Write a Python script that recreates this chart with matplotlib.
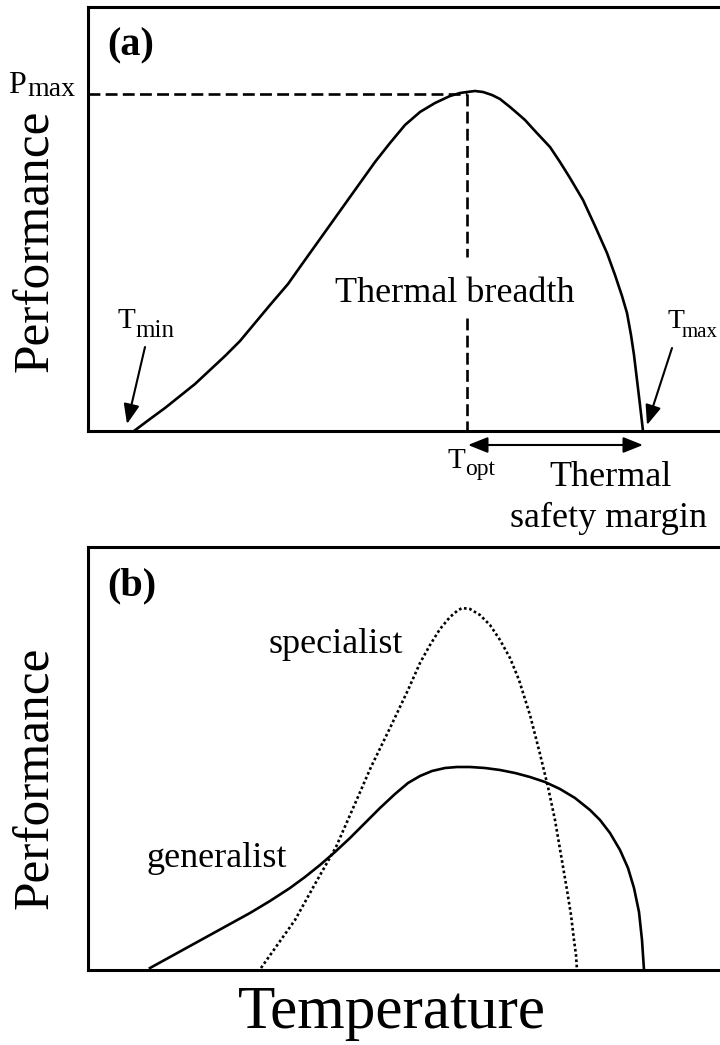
import matplotlib
matplotlib.use("Agg")
import matplotlib.pyplot as plt

plt.rcParams['font.family'] = ['Liberation Serif', 'DejaVu Serif']

W, H = 720, 1045

# ---- Panel (a): thermal performance curve (x = temperature, y = performance) ----
tpc_temp = [134, 150, 165, 180, 195, 210, 225, 240, 255, 270, 288, 300, 315, 330,
            345, 360, 375, 390, 405, 420, 435, 450, 460, 467, 475, 483, 492, 500,
            510, 517, 525, 535, 550, 560, 570, 583, 595, 607, 615, 622, 627, 631,
            634, 637, 640, 643]
tpc_y_px = [431, 419, 408, 396, 384, 370, 356, 341, 323, 305, 284, 267, 246, 225,
            204, 183, 162, 143, 125, 112, 103, 96, 93, 92, 91, 92, 95, 99,
            107, 113, 120, 131, 147, 162, 178, 200, 226, 253, 275, 296, 313, 335,
            355, 380, 405, 431]
tpc_perf = [431 - v for v in tpc_y_px]

T_opt = 467
P_max = 339
T_min = 134
T_max = 643
breadth_gap = (174, 113)   # vertical dashed line interrupted by the label

# ---- Panel (b): generalist vs specialist ----
gen_temp = [150, 170, 190, 210, 230, 250, 270, 290, 305, 320, 335, 350, 365, 380,
            395, 408, 420, 432, 445, 457, 470, 485, 500, 515, 530, 545, 560, 575,
            590, 600, 610, 620, 628, 634, 639, 642, 644]
gen_y_px = [968, 957, 946, 935, 924, 913, 901, 888, 877, 865, 852, 838, 823, 808,
            794, 783, 776, 771, 768, 767, 767, 768, 770, 773, 777, 782, 789, 798,
            810, 820, 833, 850, 868, 888, 912, 940, 970]
gen_perf = [970 - v for v in gen_y_px]

spec_temp = [261, 278, 295, 315, 336, 354, 371, 390, 408, 420, 430, 440, 450, 457,
             462, 470, 480, 490, 500, 510, 519, 530, 540, 548, 555, 561, 567, 571,
             574, 576, 577]
spec_y_px = [968, 944, 920, 884, 847, 806, 767, 728, 690, 663, 645, 629, 617, 611,
             608, 609, 615, 625, 640, 658, 680, 715, 754, 787, 820, 855, 890, 915,
             940, 955, 970]
spec_perf = [970 - v for v in spec_y_px]

fig = plt.figure(figsize=(W / 100, H / 100), dpi=100)


def add_axes(top, bottom, left=88, right=731):
    return fig.add_axes([left / W, 1 - bottom / H, (right - left) / W, (bottom - top) / H])


def style(ax, bottom_px, top_px):
    ax.set_xlim(88, 731)
    ax.set_ylim(0, bottom_px - top_px)
    ax.set_xticks([])
    ax.set_yticks([])
    for s in ax.spines.values():
        s.set_linewidth(2.2)
        s.set_color('black')


def ftext(x, y, s, **kw):
    fig.text(x / W, 1 - y / H, s, **kw)


LW = 1.9

# Panel (a)
axa = add_axes(7, 431)
style(axa, 431, 7)
A0 = 431  # pixel of panel a bottom
axa.plot(tpc_temp, tpc_perf, color='black', lw=LW, solid_joinstyle='round', zorder=3)
axa.plot([88, T_opt], [P_max - 2, P_max - 2], color='black', lw=LW, dashes=(4.5, 2))
axa.plot([T_opt, T_opt], [P_max - 2, breadth_gap[0]], color='black', lw=LW, dashes=(4.5, 2))
axa.plot([T_opt, T_opt], [breadth_gap[1], 0], color='black', lw=LW, dashes=(4.5, 2))

axa.text(455, A0 - 302, 'Thermal breadth', fontsize=26, ha='center', va='baseline')

arrow = dict(arrowstyle='-|>,head_length=0.5,head_width=0.2', color='black', lw=1.5,
             mutation_scale=24, shrinkA=0, shrinkB=0)
axa.annotate('', xy=(127, A0 - 424), xytext=(145, A0 - 347), arrowprops=arrow,
             annotation_clip=False)
axa.annotate('', xy=(647, A0 - 425), xytext=(672, A0 - 348), arrowprops=arrow,
             annotation_clip=False)
dbl = dict(arrowstyle='<|-|>,head_length=0.5,head_width=0.2', color='black', lw=1.5,
           mutation_scale=24, shrinkA=0, shrinkB=0)
axa.annotate('', xy=(T_opt + 1, A0 - 445), xytext=(T_max, A0 - 445), arrowprops=dbl,
             annotation_clip=False)

ftext(36, 241, 'Performance', fontsize=37, rotation=90, ha='center', va='center')
ftext(107, 55, '(a)', fontsize=29, fontweight='bold', ha='left', va='baseline')


# subscripted labels
def sublabel(x, y, main, sub, dy=4, size=23, subsize=20, gap=0):
    ftext(x, y, main, fontsize=size, ha='left', va='baseline')
    ftext(x + size * 0.611 * 1.389 * 0.98 + gap, y + dy, sub, fontsize=subsize,
          ha='left', va='baseline')


sublabel(8, 93, 'P', 'max', dy=3, size=23, subsize=20)
sublabel(118, 328, 'T', 'min', dy=9, size=21, subsize=18)
sublabel(667, 328, 'T', 'max', dy=9, size=20, subsize=15, gap=-2)
sublabel(448, 468, 'T', 'opt', dy=7, size=21, subsize=17)

ftext(611, 486, 'Thermal', fontsize=26, ha='center', va='baseline')
ftext(609, 527, 'safety margin', fontsize=26, ha='center', va='baseline')

# Panel (b)
axb = add_axes(547, 970)
style(axb, 970, 547)
axb.plot(gen_temp, gen_perf, color='black', lw=LW, solid_joinstyle='round', zorder=3)
axb.plot(spec_temp, spec_perf, color='black', lw=LW, linestyle=(0, (1, 1)), zorder=3)

B0 = 970
axb.text(336, B0 - 653, 'specialist', fontsize=26, ha='center', va='baseline')
axb.text(217, B0 - 867, 'generalist', fontsize=26, ha='center', va='baseline')
ftext(107, 595, '(b)', fontsize=29, fontweight='bold', ha='left', va='baseline')
ftext(36, 778, 'Performance', fontsize=37, rotation=90, ha='center', va='center')

ftext(392, 1028, 'Temperature', fontsize=44, ha='center', va='baseline')

fig.savefig('out.png', dpi=100)
